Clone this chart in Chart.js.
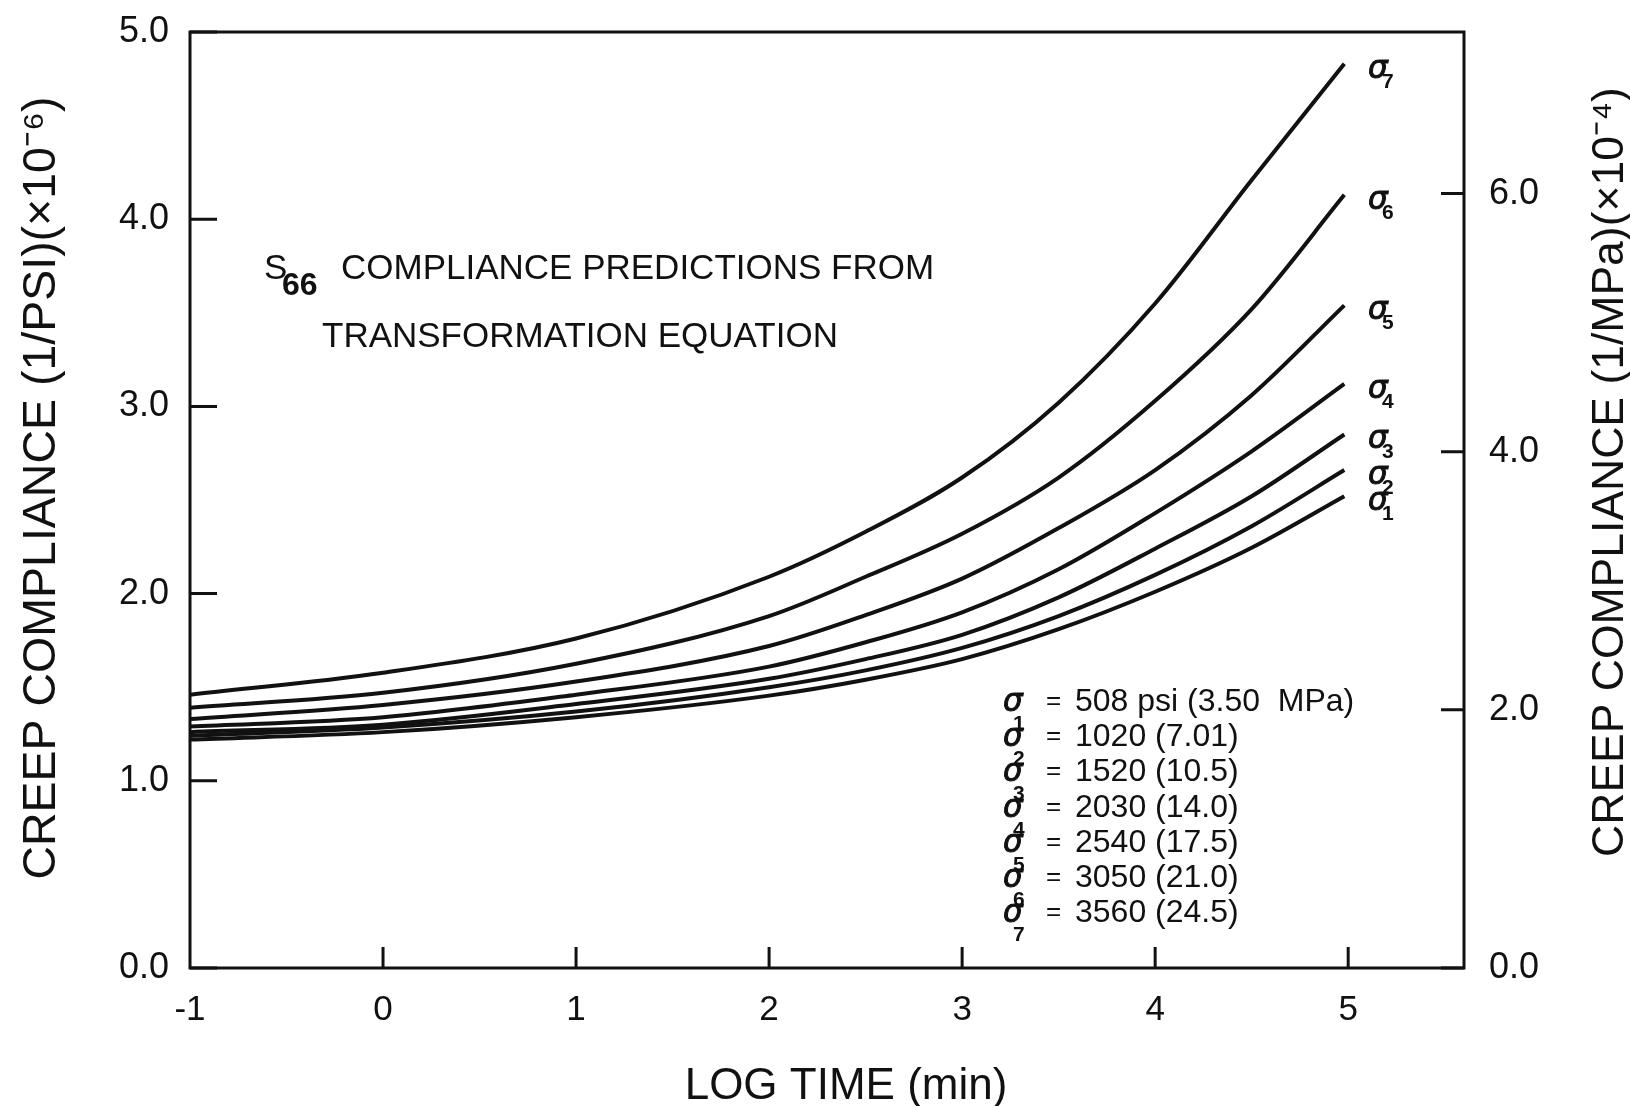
<!DOCTYPE html>
<html>
<head>
<meta charset="utf-8">
<title>S66 creep compliance</title>
<script src="https://cdn.jsdelivr.net/npm/chart.js@4.4.1/dist/chart.umd.min.js"></script>
<style>
  html, body { margin: 0; padding: 0; background: #fff; }
  canvas { display: block; }
</style>
</head>
<body>
<canvas id="creepChart" width="1630" height="1106"></canvas>
<script>
// log time (min) at which the curves were read
const logTime = [-1, 0, 1, 2, 2.5, 3, 3.5, 4, 4.5, 4.98];

// creep compliance, 1/psi x 10^-6, one array per stress level
const sigma1 = [1.22, 1.26, 1.34, 1.455, 1.54, 1.65, 1.81, 2.01, 2.245, 2.52];
const sigma2 = [1.24, 1.285, 1.37, 1.50, 1.59, 1.71, 1.88, 2.10, 2.36, 2.66];
const sigma3 = [1.26, 1.30, 1.41, 1.545, 1.65, 1.78, 1.98, 2.24, 2.52, 2.85];
const sigma4 = [1.29, 1.34, 1.46, 1.61, 1.74, 1.90, 2.13, 2.43, 2.76, 3.12];
const sigma5 = [1.33, 1.405, 1.53, 1.72, 1.885, 2.08, 2.35, 2.66, 3.06, 3.54];
const sigma6 = [1.39, 1.47, 1.625, 1.88, 2.09, 2.32, 2.62, 3.03, 3.52, 4.13];
const sigma7 = [1.46, 1.577, 1.76, 2.09, 2.33, 2.62, 3.02, 3.55, 4.21, 4.83];

// stress levels for the key
const stressPsi = ['508', '1020', '1520', '2030', '2540', '3050', '3560'];
const stressMPa = ['3.50', '7.01', '10.5', '14.0', '17.5', '21.0', '24.5'];

// tick labels
const xTicks = [-1, 0, 1, 2, 3, 4, 5];
const yTicksPsi = [0, 1, 2, 3, 4, 5];
const yTicksMPa = [0, 2, 4, 6];

const psiToMPa = 1.4504; // 1e-6 /psi  ->  1e-4 /MPa
const INK = '#111';
const FONT = "'Liberation Sans', Arial, sans-serif";

const series = [sigma1, sigma2, sigma3, sigma4, sigma5, sigma6, sigma7];
const datasets = series.map((vals, i) => ({
    label: 'σ' + (i + 1),
    data: vals.map((v, j) => ({ x: logTime[j], y: v })),
    borderColor: INK,
    borderWidth: 4,
    pointRadius: 0,
    cubicInterpolationMode: 'monotone',
    fill: false,
    yAxisID: 'y'
}));

function drawSigma(ctx, x, y, n, dx, dy) {
    ctx.font = "italic 31px 'DejaVu Sans', sans-serif";
    ctx.textAlign = 'left';
    ctx.textBaseline = 'alphabetic';
    ctx.lineWidth = 1;
    ctx.fillText('σ', x, y);
    ctx.strokeText('σ', x, y);
    ctx.font = 'bold 21px ' + FONT;
    ctx.fillText(String(n), x + dx, y + dy);
}

function rotatedText(ctx, text, x, y, size) {
    ctx.save();
    ctx.translate(x, y);
    ctx.rotate(-Math.PI / 2);
    ctx.font = size + 'px ' + FONT;
    ctx.textAlign = 'center';
    ctx.textBaseline = 'middle';
    ctx.fillText(text, 0, 0);
    ctx.restore();
}

// keep the vertical axes from pushing the plot down for their label overhang
function fixWidth(w) {
    return scale => {
        scale.width = w;
        scale.paddingTop = 0;
        scale.paddingBottom = 0;
    };
}

const frameAndNotes = {
    id: 'frameAndNotes',
    afterDraw(chart) {
        const { ctx, chartArea: a, scales } = chart;
        ctx.save();
        ctx.strokeStyle = INK;
        ctx.fillStyle = INK;
        ctx.lineWidth = 3;
        ctx.strokeRect(a.left, a.top, a.right - a.left, a.bottom - a.top);

        // inward tick marks
        ctx.beginPath();
        xTicks.forEach(v => {
            if (v === scales.x.min) return;
            const px = scales.x.getPixelForValue(v);
            ctx.moveTo(px, a.bottom);
            ctx.lineTo(px, a.bottom - 21);
        });
        yTicksPsi.forEach(v => {
            const py = scales.y.getPixelForValue(v);
            ctx.moveTo(a.left, py);
            ctx.lineTo(a.left + 27, py);
        });
        yTicksMPa.forEach(v => {
            const py = scales.y2.getPixelForValue(v);
            ctx.moveTo(a.right, py);
            ctx.lineTo(a.right - 23, py);
        });
        ctx.stroke();

        // axis titles
        rotatedText(ctx, 'CREEP COMPLIANCE (1/PSI)(×10⁻⁶)', 42, 488, 46.5);
        rotatedText(ctx, 'CREEP COMPLIANCE (1/MPa)(×10⁻⁴)', 1611, 472, 44.5);
        ctx.font = '44px ' + FONT;
        ctx.textAlign = 'center';
        ctx.textBaseline = 'middle';
        ctx.fillText('LOG TIME (min)', 846, 1087);

        // note in the upper left
        ctx.textAlign = 'left';
        ctx.textBaseline = 'alphabetic';
        ctx.font = '35px ' + FONT;
        ctx.fillText('S', 264, 279);
        ctx.font = 'bold 32px ' + FONT;
        ctx.fillText('66', 282, 295);
        ctx.font = '35px ' + FONT;
        ctx.fillText('COMPLIANCE PREDICTIONS FROM', 341, 279);
        ctx.fillText('TRANSFORMATION EQUATION', 322, 347);

        // curve labels at the line ends
        chart.data.datasets.forEach((ds, i) => {
            const last = ds.data[ds.data.length - 1];
            const py = scales.y.getPixelForValue(last.y);
            drawSigma(ctx, a.right - 96, py + 14, i + 1, 14, 10);
        });

        // stress key
        stressPsi.forEach((psi, i) => {
            const base = 711 + i * 35.2;
            drawSigma(ctx, 1003, base, i + 1, 10, 19);
            ctx.font = '26px ' + FONT;
            ctx.fillText('=', 1046, base - 2);
            ctx.font = '32px ' + FONT;
            const txt = i === 0 ? psi + ' psi (' + stressMPa[i] + '  MPa)' : psi + ' (' + stressMPa[i] + ')';
            ctx.fillText(txt, 1075, base);
        });
        ctx.restore();
    }
};

const ctx = document.getElementById('creepChart').getContext('2d');
const chart = new Chart(ctx, {
    type: 'line',
    data: { datasets: datasets },
    options: {
        responsive: false,
        animation: false,
        devicePixelRatio: 1,
        layout: { padding: { top: 32, left: 0, right: 0, bottom: 0 } },
        plugins: {
            legend: { display: false },
            tooltip: { enabled: false },
            title: { display: false }
        },
        scales: {
            x: {
                type: 'linear',
                min: -1,
                max: 5.6,
                afterBuildTicks: scale => { scale.ticks = xTicks.map(v => ({ value: v })); },
                afterFit: scale => { scale.height = 138; },
                grid: { display: false, drawTicks: false },
                border: { display: false },
                ticks: {
                    color: INK,
                    font: { family: FONT, size: 35 },
                    padding: 21,
                    maxRotation: 0,
                    autoSkip: false,
                    callback: v => String(v)
                }
            },
            y: {
                type: 'linear',
                position: 'left',
                min: 0,
                max: 5,
                afterBuildTicks: scale => { scale.ticks = yTicksPsi.map(v => ({ value: v })); },
                afterFit: fixWidth(190),
                grid: { display: false, drawTicks: false },
                border: { display: false },
                ticks: {
                    color: INK,
                    font: { family: FONT, size: 36 },
                    padding: 21,
                    callback: v => v.toFixed(1)
                }
            },
            y2: {
                type: 'linear',
                position: 'right',
                min: 0,
                max: 5 * psiToMPa,
                afterBuildTicks: scale => { scale.ticks = yTicksMPa.map(v => ({ value: v })); },
                afterFit: fixWidth(166),
                grid: { display: false, drawTicks: false },
                border: { display: false },
                ticks: {
                    color: INK,
                    font: { family: FONT, size: 36 },
                    padding: 25,
                    callback: v => v.toFixed(1)
                }
            }
        }
    },
    plugins: [frameAndNotes]
});
</script>
</body>
</html>
